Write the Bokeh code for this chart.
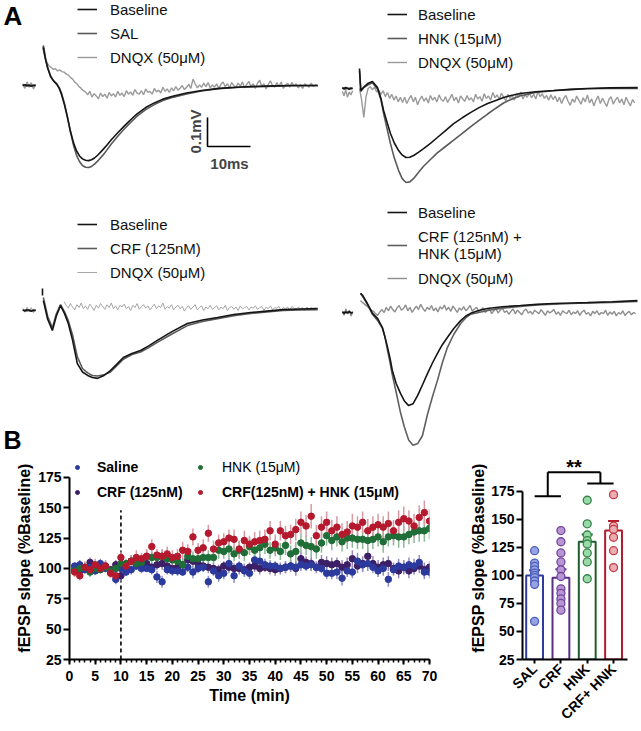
import math
from bokeh.plotting import figure
from bokeh.layouts import column, row
from bokeh.models import (Range1d, Label, Legend, LegendItem, ColumnDataSource,
                          Whisker, TeeHead, FixedTicker, SingleIntervalTicker)
from bokeh.embed import file_html
from bokeh.resources import INLINE

NAN = float("nan")
FONT = "Liberation Sans"

# ---------------- Panel A: fEPSP traces (time in ms from stimulus, voltage in mV) -------------
DNQX_STEP = 0.5  # ms between DNQX samples

# top-left: Baseline / SAL / DNQX
a1_pre_t = [-4.6, -4.1, -3.6, -3.1, -2.6, -2.1, -1.6]
a1_base_pre = [0.000, 0.003, -0.002, 0.002, -0.003, 0.001, 0.000]
a1_sal_pre = [0.002, -0.001, 0.003, -0.002, 0.001, -0.001, 0.002]
a1_dnqx_pre = [0.006, -0.010, 0.012, -0.006, 0.010, -0.012, 0.004]
a1_t = [0.2, 0.7, 1.2, 1.9, 2.6, 3.3, 3.9, 4.4, 5.1, 5.8, 6.5, 7.2, 7.9, 8.6, 9.3, 10.0, 10.7,
        11.4, 12.1, 13.0, 14.0, 15.0, 16.0, 17.5, 19.0, 20.5, 22.0, 24.0, 26.0, 28.0, 30.5,
        33.5, 37.0, 41.0, 46.0, 52.0, 58.0, 64.0]
a1_base = [0.131, 0.090, 0.060, 0.030, 0.015, 0.005, -0.010, -0.030, -0.066, -0.110, -0.158,
           -0.197, -0.225, -0.243, -0.253, -0.258, -0.259, -0.256, -0.250, -0.238, -0.222,
           -0.205, -0.187, -0.163, -0.140, -0.118, -0.098, -0.076, -0.060, -0.047, -0.036,
           -0.026, -0.017, -0.010, -0.005, -0.002, 0.000, 0.000]
a1_sal = [0.138, 0.095, 0.062, 0.032, 0.016, 0.006, -0.008, -0.025, -0.062, -0.108, -0.160,
          -0.205, -0.240, -0.262, -0.276, -0.282, -0.283, -0.279, -0.271, -0.258, -0.241,
          -0.222, -0.202, -0.175, -0.150, -0.127, -0.106, -0.083, -0.066, -0.052, -0.040,
          -0.029, -0.019, -0.011, -0.006, -0.003, -0.001, 0.000]
a1_dnqx = [0.135, 0.100, 0.080, 0.068, 0.062, 0.056, 0.058, 0.050, 0.054, 0.048,
           0.046, 0.040, 0.036, 0.028, 0.022, 0.012, 0.006, -0.004, -0.010, -0.018,
           -0.022, -0.032, -0.020, -0.040, -0.028, -0.036, -0.046, -0.026, -0.038, -0.030,
           -0.044, -0.024, -0.036, -0.028, -0.040, -0.020, -0.034, -0.026, -0.038, -0.018,
           -0.030, -0.022, -0.034, -0.014, -0.026, -0.030, -0.018, -0.032, -0.012, -0.024,
           -0.020, -0.030, -0.010, -0.022, -0.016, -0.026, -0.006, -0.020, -0.012, -0.024,
           -0.008, -0.018, -0.004, -0.016, -0.010, 0.000, -0.014, -0.006, 0.004, -0.010,
           0.022, 0.006, -0.008, 0.002, -0.006, 0.008, -0.004, 0.010, -0.008, 0.002,
           -0.006, 0.006, -0.010, 0.004, 0.012, -0.004, 0.006, -0.008, 0.010, 0.000,
           -0.006, 0.008, -0.002, 0.012, -0.008, 0.004, 0.014, -0.004, 0.006, -0.010,
           0.008, 0.018, -0.004, 0.006, -0.012, 0.004, 0.016, 0.000, -0.006, 0.010,
           -0.004, 0.012, -0.010, 0.002, 0.008, -0.006, 0.010, -0.002, 0.006, -0.008,
           0.004, -0.010, 0.006, 0.000, -0.006, 0.008, -0.004, 0.002, -0.002]

# top-right: Baseline / HNK / DNQX
a2_pre_t = [-4.0, -3.6, -3.2, -2.8, -2.4, -2.0, -1.6]
a2_base_pre = [0.003, -0.002, 0.004, 0.000, -0.003, 0.002, 0.000]
a2_hnk_pre = [0.000, 0.003, -0.002, 0.002, 0.001, -0.002, 0.001]
a2_dnqx_pre = [-0.010, -0.025, -0.005, -0.030, -0.012, -0.022, -0.008]
a2_t = [0.0, 0.3, 1.0, 1.9, 3.0, 4.2, 5.0, 5.6, 6.4, 7.2, 8.1, 9.1, 9.9, 10.8, 11.7, 12.6, 13.7,
        14.9, 16.5, 18.1, 20.0, 21.9, 23.9, 25.8, 27.8, 29.8, 31.7, 33.5, 35.5, 37.4, 41.0,
        45.1, 49.0, 53.0, 58.0, 64.7]
a2_base = [0.069, -0.007, 0.005, 0.017, 0.024, 0.003, -0.035, -0.076, -0.116, -0.155, -0.188,
           -0.214, -0.229, -0.238, -0.237, -0.231, -0.220, -0.207, -0.189, -0.169, -0.145,
           -0.121, -0.101, -0.083, -0.066, -0.052, -0.041, -0.031, -0.023, -0.017, -0.011,
           -0.007, -0.003, 0.000, 0.002, 0.003]
a2_hnk = [0.060, -0.010, 0.003, 0.012, 0.020, -0.003, -0.040, -0.086, -0.138, -0.190, -0.240,
          -0.283, -0.310, -0.324, -0.322, -0.310, -0.290, -0.268, -0.245, -0.222, -0.200,
          -0.178, -0.155, -0.132, -0.110, -0.088, -0.068, -0.050, -0.036, -0.025, -0.014,
          -0.008, -0.004, -0.001, 0.000, 0.000]
a2_dnqx = [0.000, -0.040, -0.100, -0.030, 0.000, 0.006, -0.004, 0.004, -0.012, -0.006,
           -0.020, -0.008, -0.028, -0.014, -0.034, -0.020, -0.040, -0.026, -0.046, -0.030,
           -0.048, -0.030, -0.052, -0.036, -0.024, -0.046, -0.030, -0.056, -0.038, -0.026,
           -0.044, -0.032, -0.050, -0.024, -0.040, -0.030, -0.046, -0.022, -0.038, -0.044,
           -0.028, -0.048, -0.034, -0.020, -0.042, -0.030, -0.050, -0.026, -0.036, -0.044,
           -0.024, -0.040, -0.032, -0.046, -0.020, -0.036, -0.028, -0.044, -0.018, -0.034,
           -0.026, -0.040, -0.014, -0.032, -0.022, -0.038, -0.016, -0.030, -0.042, -0.020,
           -0.034, -0.024, -0.040, -0.018, -0.030, -0.012, -0.036, -0.022, -0.030, -0.016,
           -0.032, -0.020, -0.036, -0.010, -0.028, -0.018, -0.034, -0.024, -0.040, -0.022,
           -0.038, -0.026, -0.046, -0.030, -0.052, -0.034, -0.024, -0.044, -0.058, -0.036,
           -0.048, -0.026, -0.040, -0.054, -0.032, -0.046, -0.022, -0.050, -0.036, -0.060,
           -0.040, -0.026, -0.052, -0.034, -0.048, -0.062, -0.038, -0.028, -0.054, -0.040,
           -0.030, -0.050, -0.036, -0.056, -0.030, -0.046, -0.060, -0.038, -0.050]

# bottom-left: Baseline / CRF / DNQX
a3_pre_t = [-4.6, -4.1, -3.6, -3.1, -2.6, -2.1, -1.6]
a3_base_pre = [0.002, -0.002, 0.003, 0.000, -0.003, 0.002, 0.000]
a3_crf_pre = [0.000, 0.002, -0.002, 0.003, 0.000, -0.002, 0.001]
a3_dnqx_pre = [0.008, -0.006, 0.012, -0.004, 0.010, -0.008, 0.004]
a3_art_t = [0.0, 0.0]
a3_art = [0.076, 0.052]
a3_t = [0.2, 1.2, 2.3, 3.2, 4.2, 5.1, 6.0, 7.0, 8.1, 9.3, 10.5, 11.6, 12.8, 14.3, 15.8, 17.3,
        18.8, 20.8, 22.8, 24.7, 26.7, 30.2, 33.7, 37.2, 40.7, 44.5, 48.4, 52.2, 56.0, 60.0, 64.0]
a3_base = [0.034, -0.030, -0.069, -0.020, 0.017, -0.010, -0.045, -0.103, -0.183, -0.212,
           -0.224, -0.231, -0.234, -0.224, -0.207, -0.185, -0.162, -0.148, -0.138, -0.122,
           -0.103, -0.072, -0.045, -0.033, -0.024, -0.014, -0.007, -0.002, 0.003, 0.005, 0.007]
a3_crf = [0.045, -0.020, -0.060, -0.012, 0.020, -0.004, -0.035, -0.085, -0.160, -0.200,
          -0.215, -0.224, -0.226, -0.222, -0.212, -0.190, -0.168, -0.152, -0.143, -0.128,
          -0.110, -0.080, -0.052, -0.038, -0.028, -0.018, -0.010, -0.005, 0.000, 0.002, 0.003]
a3_dnqx_t0 = 5.0
a3_dnqx = [0.030, 0.018, 0.008, 0.024, 0.012, 0.002, 0.020, 0.010, 0.026, 0.006,
           0.016, 0.004, 0.022, 0.012, 0.000, 0.018, 0.008, 0.024, 0.014, 0.004,
           0.020, 0.010, 0.026, 0.006, 0.016, 0.002, 0.018, 0.012, 0.022, 0.006,
           0.014, 0.000, 0.018, 0.010, 0.024, 0.004, 0.014, 0.020, 0.008, 0.016,
           0.002, 0.012, 0.022, 0.006, 0.016, 0.010, 0.026, 0.004, 0.014, 0.008,
           0.020, 0.002, 0.012, 0.018, 0.006, 0.014, -0.002, 0.010, 0.016, 0.004,
           0.012, 0.020, 0.002, 0.010, 0.016, 0.000, 0.012, 0.006, 0.018, 0.004,
           0.010, 0.016, 0.002, 0.012, 0.006, 0.018, 0.000, 0.010, 0.014, 0.004,
           0.012, 0.000, 0.016, 0.006, 0.010, 0.014, 0.002, 0.012, 0.008, 0.016,
           0.004, 0.010, 0.014, 0.000, 0.012, 0.006, 0.016, 0.002, 0.010, 0.008,
           0.014, 0.000, 0.010, 0.006, 0.012, 0.002, 0.014, 0.008, 0.004, 0.012,
           0.006, 0.010, 0.000, 0.012, 0.004, 0.010, 0.006, 0.008, 0.004]

# bottom-right: Baseline / CRF + HNK / DNQX
a4_pre_t = [-4.2, -3.8, -3.4, -3.0, -2.6, -2.2, -1.8]
a4_base_pre = [0.001, -0.003, 0.002, 0.000, 0.003, -0.002, 0.001]
a4_ch_pre = [-0.002, 0.002, 0.000, -0.003, 0.002, 0.000, -0.001]
a4_dnqx_pre = [0.005, -0.010, 0.012, -0.005, 0.008, -0.012, 0.003]
a4_t = [0.0, 0.5, 1.6, 2.8, 4.0, 5.1, 5.7, 6.3, 6.9, 7.4, 8.3, 9.3, 10.2, 11.2, 12.2, 13.3, 14.4,
        15.6, 16.7, 17.9, 19.0, 20.2, 21.7, 23.3, 24.5, 25.6, 27.5, 29.5, 33.0, 37.2, 41.0,
        44.9, 49.0, 52.8, 58.5, 64.4]
a4_base = [0.066, 0.059, 0.031, -0.003, -0.021, -0.052, -0.085, -0.121, -0.160, -0.200, -0.245,
           -0.279, -0.305, -0.321, -0.315, -0.286, -0.250, -0.210, -0.175, -0.141, -0.112,
           -0.086, -0.055, -0.028, -0.012, -0.003, 0.007, 0.014, 0.020, 0.024, 0.028, 0.031,
           0.033, 0.034, 0.037, 0.041]
a4_ch = [0.066, 0.055, 0.028, -0.007, -0.028, -0.055, -0.085, -0.131, -0.175, -0.215, -0.275,
         -0.345, -0.395, -0.440, -0.458, -0.452, -0.425, -0.350, -0.292, -0.234, -0.175,
         -0.121, -0.075, -0.038, -0.018, -0.006, 0.000, 0.007, 0.015, 0.021, 0.026, 0.029,
         0.031, 0.033, 0.035, 0.038]
a4_dnqx = [0.041, 0.034, 0.028, 0.022, 0.016, 0.008, 0.004, -0.004, -0.010, 0.002,
           0.010, 0.000, 0.018, 0.006, 0.022, 0.010, 0.002, 0.016, 0.024, 0.008,
           0.014, 0.026, 0.006, 0.018, 0.000, 0.012, 0.022, 0.010, 0.028, 0.014,
           0.004, 0.018, 0.010, 0.024, 0.006, 0.016, 0.002, 0.020, 0.012, 0.026,
           0.008, 0.018, 0.004, 0.022, 0.012, 0.000, 0.016, 0.008, 0.020, 0.006,
           0.014, 0.024, 0.004, 0.012, 0.018, 0.002, 0.010, 0.016, 0.000, 0.008,
           0.012, -0.004, 0.006, 0.014, -0.002, 0.008, 0.016, 0.000, 0.006, -0.006,
           0.004, 0.012, -0.004, 0.008, 0.000, -0.008, 0.006, 0.012, -0.002, 0.004,
           -0.006, 0.008, 0.002, -0.004, 0.010, 0.000, -0.010, 0.006, -0.002, 0.004,
           0.010, -0.006, 0.002, -0.010, 0.006, 0.000, -0.004, 0.008, -0.008, 0.002,
           -0.004, 0.006, -0.010, 0.002, 0.008, -0.006, 0.000, -0.012, 0.004, -0.004,
           0.006, -0.008, 0.000, -0.004, 0.008, -0.010, 0.002, -0.006, 0.004, -0.012,
           0.000, -0.006, 0.006, -0.010, -0.002, 0.004, -0.008, 0.000, -0.004]

# scale bar
scale_ms = 10
scale_mv = 0.1

# ---------------- Panel B: time course (% baseline) ----------------
minutes = list(range(1, 71))
drug_onset = 10
sal_tc = [102, 103, 99, 101, 98, 104, 100, 97, 91, 100,
          97, 99, 102, 100, 100, 99, 93, 89, 99, 98,
          98, 97, 101, 97, 100, 101, 89, 98, 94, 96,
          104, 94, 102, 98, 96, 107, 106, 103, 102, 102,
          100, 101, 102, 101, 103, 102, 103, 101, 100, 96,
          96, 97, 92, 98, 97, 106, 103, 104, 101, 98,
          100, 91, 99, 102, 101, 103, 102, 105, 97, 97]
sal_err = [3, 4, 3, 5, 3, 4, 3, 4, 4, 3, 3, 4, 3, 4, 3, 4, 5, 5, 4, 4,
           4, 3, 4, 5, 4, 4, 5, 4, 5, 5, 5, 6, 4, 5, 5, 6, 6, 5, 5, 4,
           4, 5, 4, 5, 5, 4, 5, 4, 4, 5, 5, 6, 6, 5, 5, 7, 6, 6, 5, 5,
           6, 6, 5, 6, 5, 6, 6, 6, 6, 5]
crf_tc = [99, 98, 100, 105, 99, 101, 102, 99, 103, 94,
          100, 106, 103, 102, 104, 101, 103, 104, 102, 100,
          101, 103, 107, 106, 104, 102, 101, 100, 99, 102,
          101, 100, 100, 99, 101, 102, 100, 101, 100, 99,
          100, 101, 102, 100, 108, 105, 104, 101, 105, 104,
          103, 104, 101, 103, 108, 102, 104, 110, 104, 101,
          103, 104, 100, 98, 101, 98, 100, 102, 99, 101]
crf_err = [3, 3, 4, 4, 3, 3, 4, 3, 4, 5, 4, 5, 4, 4, 5, 4, 4, 5, 5, 4,
           5, 5, 6, 5, 5, 4, 5, 5, 4, 4, 5, 4, 5, 5, 4, 5, 5, 4, 5, 5,
           5, 5, 5, 6, 6, 5, 6, 5, 6, 6, 6, 5, 6, 6, 7, 6, 6, 7, 6, 6,
           6, 6, 5, 6, 6, 6, 5, 6, 6, 5]
hnk_tc = [98, 100, 101, 97, 100, 99, 101, 98, 100, 104,
          104, 106, 104, 105, 110, 109, 109, 110, 108, 107,
          106, 103, 110, 108, 108, 109, 109, 109, 115, 114,
          116, 112, 115, 113, 118, 115, 117, 120, 115, 117,
          114, 119, 112, 114, 121, 119, 118, 116, 121, 127,
          123, 126, 122, 125, 125, 124, 124, 123, 124, 126,
          122, 126, 127, 126, 126, 128, 130, 131, 131, 133]
hnk_err = [3, 3, 3, 4, 3, 3, 3, 4, 3, 4, 4, 4, 5, 4, 5, 5, 5, 5, 6, 5,
           5, 6, 5, 6, 6, 6, 6, 6, 7, 6, 7, 6, 7, 7, 7, 7, 7, 8, 7, 7,
           7, 8, 7, 8, 8, 8, 8, 8, 8, 8, 8, 8, 8, 9, 8, 8, 8, 9, 8, 8,
           9, 8, 8, 9, 9, 8, 9, 9, 9, 9]
ch_tc = [97, 94, 101, 99, 103, 100, 102, 96, 94, 109,
         102, 106, 109, 108, 110, 118, 111, 110, 112, 109,
         110, 115, 114, 126, 115, 117, 129, 116, 121, 122,
         125, 124, 116, 123, 120, 122, 123, 124, 131, 120,
         131, 127, 128, 132, 138, 135, 143, 127, 134, 138,
         131, 134, 128, 130, 135, 134, 138, 131, 134, 136,
         134, 137, 131, 138, 141, 139, 135, 142, 146, 139]
ch_err = [4, 4, 5, 4, 5, 4, 5, 4, 5, 5, 5, 5, 6, 5, 6, 6, 5, 6, 6, 6,
          6, 7, 6, 7, 6, 7, 7, 7, 7, 7, 7, 8, 7, 8, 7, 8, 8, 8, 8, 8,
          8, 8, 8, 9, 9, 9, 10, 9, 9, 9, 9, 9, 9, 9, 10, 9, 9, 10, 9, 9,
          9, 10, 9, 10, 10, 9, 10, 10, 10, 10]

# ---------------- Panel B: summary bars ----------------
groups = ["SAL", "CRF", "HNK", "CRF+ HNK"]
bar_means = [100, 98, 130, 140]
bar_sems = [4.5, 7.5, 6.5, 8.5]
sal_pts = [122, 111, 108, 105, 102, 100, 98, 95, 92, 59]
crf_pts = [140, 130, 120, 112, 105, 99, 88, 84, 79, 75, 69]
hnk_pts = [167, 146, 136, 131, 128, 120, 112, 97]
ch_pts = [172, 144, 141, 134, 122, 107]
sig_label = "**"
sig_left_y, sig_right_y, sig_top_y = 170.6, 182, 192

# ================= drawing =================
PX_MS = 4.3     # pixels per ms
PX_MV = 290.0   # pixels per mV
W_L, W_R = 320, 321
H1, H2, H3 = 192, 262, 277
W_B1 = 445


def tfig(w, h, stim_px, base_px):
    x0 = -stim_px / PX_MS
    y1 = base_px / PX_MV
    p = figure(width=w, height=h, x_range=Range1d(x0, x0 + w / PX_MS),
               y_range=Range1d(y1 - h / PX_MV, y1), x_axis_location=None,
               y_axis_location=None, output_backend="svg", toolbar_location=None,
               min_border=0, title=None)
    p.grid.grid_line_color = None
    p.outline_line_color = None

    def at(px, py):
        return x0 + px / PX_MS, y1 - py / PX_MV
    return p, at


def seg(pre_t, pre_v, t, v):
    return list(pre_t) + [NAN] + list(t), list(pre_v) + [NAN] + list(v)


def dense_t(vals, t0=0.0):
    return [t0 + i * DNQX_STEP for i in range(len(vals))]


def tlegend(p, items, h, x, top, standoff, spacing=4, extra=0):
    n = len(items)
    H = n * 20 + (n - 1) * spacing + extra
    leg = Legend(items=[LegendItem(label=l, renderers=[r]) for l, r in items],
                 location=(x, h - top - H), padding=0, margin=0, spacing=spacing,
                 glyph_width=20, glyph_height=20, label_height=20, label_standoff=standoff,
                 label_text_font=FONT, label_text_font_size="15px", label_text_color="#111111",
                 border_line_color=None, background_fill_alpha=0)
    p.add_layout(leg, "center")


def letter(p, at, px, py, txt, size):
    x, y = at(px, py)
    p.add_layout(Label(x=x, y=y, text=txt, text_font=FONT, text_font_size=size,
                       text_font_style="bold", text_align="left", text_baseline="top",
                       text_color="black"))


C_BASE = "#151515"
C_DRUG = "#5a5a5a"
C_DNQX = "#9a9a9a"

# ---- A1 ----
A1, at1 = tfig(W_L, H1, 42, 85)
t, v = seg(a1_pre_t, a1_dnqx_pre, dense_t(a1_dnqx), a1_dnqx)
r13 = A1.line(t, v, line_color=C_DNQX, line_width=1.4)
t, v = seg(a1_pre_t, a1_sal_pre, a1_t, a1_sal)
r12 = A1.line(t, v, line_color=C_DRUG, line_width=1.6)
t, v = seg(a1_pre_t, a1_base_pre, a1_t, a1_base)
r11 = A1.line(t, v, line_color=C_BASE, line_width=1.6)
tlegend(A1, [("Baseline", r11), ("SAL", r12), ("DNQX (50μM)", r13)], H1, 77, -1, 13)
letter(A1, at1, 3, 0.5, "A", "26px")
sx, sy = at1(207, 146)
A1.line([sx, sx, sx + scale_ms], [sy + scale_mv, sy, sy], line_color="black", line_width=1.6)
lx, ly = at1(195, 131)
A1.add_layout(Label(x=lx, y=ly, text="0.1mV", angle=math.pi / 2, text_align="center",
                    text_baseline="middle", text_font=FONT, text_font_size="15px",
                    text_font_style="bold"))
lx, ly = at1(229, 163)
A1.add_layout(Label(x=lx, y=ly, text="10ms", text_align="center", text_baseline="middle",
                    text_font=FONT, text_font_size="15px", text_font_style="bold"))

# ---- A2 ----
A2, at2 = tfig(W_R, H1, 39, 88)
t, v = seg(a2_pre_t, a2_dnqx_pre, dense_t(a2_dnqx), a2_dnqx)
r23 = A2.line(t, v, line_color=C_DNQX, line_width=1.4)
t, v = seg(a2_pre_t, a2_hnk_pre, a2_t, a2_hnk)
r22 = A2.line(t, v, line_color=C_DRUG, line_width=1.6)
t, v = seg(a2_pre_t, a2_base_pre, a2_t, a2_base)
r21 = A2.line(t, v, line_color=C_BASE, line_width=1.6)
tlegend(A2, [("Baseline", r21), ("HNK (15μM)", r22), ("DNQX (50μM)", r23)], H1, 67, 4, 11)

# ---- A3 ----
A3, at3 = tfig(W_L, H2, 42, 118)
t, v = seg(a3_pre_t, a3_dnqx_pre, dense_t(a3_dnqx, a3_dnqx_t0), a3_dnqx)
r33 = A3.line(t, v, line_color="#a6a6a6", line_width=1.0)
t, v = seg(a3_pre_t, a3_crf_pre, a3_t, a3_crf)
r32 = A3.line(t, v, line_color=C_DRUG, line_width=1.6)
t, v = seg(a3_pre_t, a3_base_pre, a3_t, a3_base)
r31 = A3.line(t, v, line_color=C_BASE, line_width=1.6)
A3.line(a3_art_t, a3_art, line_color=C_BASE, line_width=1.6)
tlegend(A3, [("Baseline", r31), ("CRF (125nM)", r32), ("DNQX (50μM)", r33)], H2, 77, 22, 13)
letter(A3, at3, 3, 233, "B", "25px")

# ---- A4 ----
A4, at4 = tfig(W_R, H2, 40, 120)
t, v = seg(a4_pre_t, a4_dnqx_pre, dense_t(a4_dnqx), a4_dnqx)
r43 = A4.line(t, v, line_color="#8e8e8e", line_width=1.4)
t, v = seg(a4_pre_t, a4_ch_pre, a4_t, a4_ch)
r42 = A4.line(t, v, line_color="#606060", line_width=1.6)
t, v = seg(a4_pre_t, a4_base_pre, a4_t, a4_base)
r41 = A4.line(t, v, line_color=C_BASE, line_width=1.6)
tlegend(A4, [("Baseline", r41), ("CRF (125nM) +\nHNK (15μM)", r42), ("DNQX (50μM)", r43)],
        H2, 67, 8, 11, spacing=6, extra=16)


def style_axes(p):
    for ax in p.axis:
        ax.axis_line_width = 2
        ax.axis_line_color = "black"
        ax.major_tick_line_width = 2
        ax.major_tick_line_color = "black"
        ax.major_tick_in = 0
        ax.minor_tick_in = 0
        ax.major_label_text_font = FONT
        ax.major_label_text_font_style = "bold"
        ax.major_label_text_font_size = "14px"
        ax.major_label_text_color = "black"
        ax.axis_label_text_font = FONT
        ax.axis_label_text_font_style = "bold"
        ax.axis_label_text_font_size = "16px"
        ax.axis_label_text_color = "black"
    p.grid.grid_line_color = None
    p.outline_line_color = None


# shared frame (row3): top at 2 px, bottom at 206 px from the row top
FR_TOP, FR_BOT = 2, 206
FR_H = FR_BOT - FR_TOP

# ---- B1: time course ----
B1_px = 1.22   # px per % unit
B1 = figure(width=W_B1, height=H3, x_range=Range1d(0, 70),
            y_range=Range1d(25, 25 + FR_H / B1_px),
            output_backend="svg", toolbar_location=None, title=None,
            min_border_left=69, min_border_right=16, min_border_top=FR_TOP,
            min_border_bottom=H3 - FR_BOT)
style_axes(B1)
B1.xaxis.ticker = SingleIntervalTicker(interval=5, num_minor_ticks=5)
B1.xaxis.major_tick_out = 5
B1.xaxis.minor_tick_out = 3
B1.xaxis.minor_tick_line_width = 1.5
B1.xaxis.minor_tick_line_color = "black"
B1.xaxis.major_label_standoff = 6
B1.xaxis.axis_label = "Time (min)"
B1.xaxis.axis_label_standoff = 3
B1.yaxis.ticker = FixedTicker(ticks=[25, 50, 75, 100, 125, 150, 175])
B1.yaxis.bounds = (25, 175)
B1.yaxis.minor_tick_line_color = None
B1.yaxis.major_tick_out = 6
B1.yaxis.major_label_standoff = 2
B1.yaxis.axis_label = "fEPSP slope (%Baseline)"
B1.yaxis.axis_label_standoff = 2

B1.segment(x0=[drug_onset], y0=[25], x1=[drug_onset], y1=[148], line_color="black",
           line_width=1.6, line_dash="4 3")

series = [
    (crf_tc, crf_err, "#3c1f66", "#9c8ab4"),
    (sal_tc, sal_err, "#2c3a9e", "#8f90c8"),
    (hnk_tc, hnk_err, "#1f6d37", "#8db898"),
    (ch_tc, ch_err, "#b5192e", "#d99aa3"),
]
for vals, errs, col, wcol in series:
    B1.segment(x0=minutes, x1=minutes, y0=[a - e for a, e in zip(vals, errs)],
               y1=[a + e for a, e in zip(vals, errs)], line_color=wcol, line_width=1.5)
rend = []
for vals, errs, col, wcol in series:
    rend.append(B1.scatter(minutes, vals, size=6.5, fill_color=col, line_color=col))
r_crf, r_sal, r_hnk, r_ch = rend


def blegend(items, x, top, standoff, style):
    n = len(items)
    H = n * 20 + (n - 1) * 5
    leg = Legend(items=[LegendItem(label=l, renderers=[r]) for l, r in items],
                 location=(x, FR_H - top - H), padding=0, margin=0, spacing=5,
                 glyph_width=10, glyph_height=20, label_height=20, label_standoff=standoff,
                 label_text_font=FONT, label_text_font_size="14px",
                 label_text_font_style=style, label_text_color="black",
                 border_line_color=None, background_fill_alpha=0)
    B1.add_layout(leg, "center")


blegend([("Saline", r_sal), ("CRF (125nM)", r_crf)], 3, 2, 15, "bold")
blegend([("HNK (15μM)", r_hnk)], 126, 2, 17, "normal")
blegend([("CRF(125nM) + HNK (15μM)", r_ch)], 126, 27, 17, "bold")

# ---- B2: bars ----
bar_line = ["#2e3a9c", "#5b2d84", "#1c5e2e", "#b31c2d"]
pt_fill = ["#95a3e3", "#b796d4", "#9ad9a9", "#eaaeb2"]
pt_line = ["#4f5fbc", "#7443a0", "#358446", "#c43a46"]
xs = list(range(len(groups)))

B2_px = 1.127
B2 = figure(width=W_L + W_R - W_B1, height=H3, x_range=Range1d(-0.46, 3.53),
            y_range=Range1d(25, 25 + FR_H / B2_px),
            output_backend="svg", toolbar_location=None, title=None,
            min_border_left=77, min_border_right=14, min_border_top=FR_TOP,
            min_border_bottom=H3 - FR_BOT)
style_axes(B2)
B2.yaxis.ticker = FixedTicker(ticks=[25, 50, 75, 100, 125, 150, 175])
B2.yaxis.bounds = (25, 175)
B2.yaxis.minor_tick_line_color = None
B2.yaxis.major_tick_out = 6
B2.yaxis.major_label_standoff = 2
B2.yaxis.axis_label = "fEPSP slope (%Baseline)"
B2.yaxis.axis_label_standoff = 1
B2.xaxis.ticker = FixedTicker(ticks=xs)
B2.xaxis.major_label_overrides = {i: g for i, g in zip(xs, groups)}
B2.xaxis.major_label_orientation = math.pi / 4
B2.xaxis.minor_tick_line_color = None
B2.xaxis.major_tick_out = 4
B2.xaxis.major_label_standoff = 3

B2.vbar(x=xs, top=bar_means, bottom=25, width=0.64, fill_color="white",
        line_color=bar_line, line_width=2)
for i, pts in enumerate([sal_pts, crf_pts, hnk_pts, ch_pts]):
    B2.scatter([i] * len(pts), pts, size=8, fill_color=pt_fill[i], line_color=pt_line[i],
               line_width=1.3)
for i in xs:
    src = ColumnDataSource(dict(x=[i], lo=[bar_means[i] - bar_sems[i]],
                                hi=[bar_means[i] + bar_sems[i]]))
    B2.add_layout(Whisker(source=src, base="x", lower="lo", upper="hi",
                          line_color=bar_line[i], line_width=2,
                          upper_head=TeeHead(size=11, line_color=bar_line[i], line_width=2),
                          lower_head=TeeHead(size=11, line_color=bar_line[i], line_width=2)))
B2.multi_line(xs=[[0, 1], [0.5, 0.5], [0.5, 2.5], [2.5, 2.5], [2, 3]],
              ys=[[sig_left_y, sig_left_y], [sig_left_y, sig_top_y], [sig_top_y, sig_top_y],
                  [sig_right_y, sig_top_y], [sig_right_y, sig_right_y]],
              line_color="black", line_width=2)
B2.add_layout(Label(x=1.5, y=sig_top_y + 4.5, text=sig_label, text_align="center",
                    text_baseline="middle", text_font=FONT, text_font_size="20px",
                    text_font_style="bold", text_color="black"))

layout = column(row(A1, A2), row(A3, A4), row(B1, B2))
open("out.html", "w").write(file_html(layout, INLINE))
